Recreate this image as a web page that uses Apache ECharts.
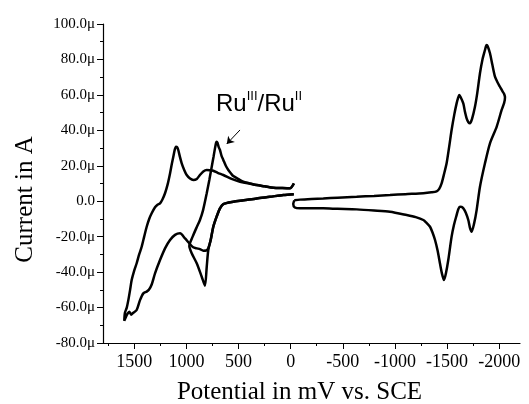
<!DOCTYPE html>
<html>
<head>
<meta charset="utf-8">
<script src="https://cdn.jsdelivr.net/npm/echarts@6/dist/echarts.min.js"></script>
<style>
  html, body { margin: 0; padding: 0; background: #fff; }
  #chart { width: 529px; height: 404px; }
</style>
</head>
<body>
<div id="chart"></div>
<script>
// first scan: only across the Ru(III)/Ru(II) couple
const scan1Potential = [-30, 70, 200, 326, 450, 550, 646, 678, 710, 742, 767, 790, 805, 822, 853, 901, 949, 972, 940, 900, 870, 840, 805, 780, 757, 740, 726, 716, 710, 702, 690, 678, 662, 646, 622, 598, 570, 550, 500, 454, 400, 326, 250, 166, 80, 6, -30]
const scan1Current = [4, 3.5, 2.5, 1.6, 0.5, -0.3, -1.6, -4, -8.7, -14.4, -21.9, -27.5, -37, -47.7, -42.6, -35, -29.4, -25.3, -20, -14.5, -10.6, -5, 4.5, 12, 19.5, 25, 29.8, 32.8, 33.6, 33, 30.5, 28.9, 25.5, 23.3, 20, 17.6, 15.5, 14.2, 12.5, 11, 10.2, 9.1, 8.4, 7.6, 7.4, 7.3, 10]

// second scan: wide anodic window up to +1600 mV
const scan2Potential = [-30, 70, 200, 326, 450, 550, 646, 678, 710, 742, 767, 790, 810, 838, 870, 901, 935, 966, 1013, 1061, 1109, 1157, 1205, 1253, 1301, 1333, 1360, 1381, 1413, 1445, 1477, 1509, 1530, 1548, 1565, 1579, 1596,
  1590, 1572, 1557, 1540, 1525, 1500, 1477, 1453, 1429, 1405, 1381, 1357, 1333, 1301, 1277, 1253, 1230, 1205, 1180, 1157, 1140, 1126, 1112, 1100, 1089, 1078, 1062, 1045, 1020, 997, 965, 934, 900, 870, 838, 805, 775, 742, 700, 646, 560, 486, 400, 326, 250, 166, 80, 6, -32]
const scan2Current = [4, 3.5, 2.5, 1.6, 0.5, -0.3, -1.6, -4, -8.7, -14.4, -21.9, -26.5, -27.8, -27.9, -27, -26.6, -26, -24.2, -21, -18.1, -19, -21.9, -26.6, -33.2, -40.7, -47, -50, -51, -52, -55.8, -61.4, -62.9, -64, -62.3, -63.5, -65.2, -67.5,
  -63, -60, -55.8, -50, -44.5, -39, -35, -30, -25.7, -20, -14.4, -10, -6.8, -3.4, -2, -1.2, 1, 4.5, 9.5, 15.7, 21, 25, 29, 30.8, 30.5, 28.9, 25, 21.4, 17.5, 14.8, 12.8, 12, 12.6, 14.8, 16.8, 17.6, 17.5, 17.2, 16, 14.8, 12.5, 11, 10, 9.1, 8.4, 7.6, 7.4, 7.3, 10.1]

// third scan: cathodic window down to -2050 mV
const scan3Potential = [-35, -90, -200, -313, -450, -633, -800, -953, -1100, -1273, -1350, -1400, -1425, -1448, -1470, -1496, -1520, -1544, -1570, -1592, -1607, -1618, -1630, -1656, -1672, -1688, -1705, -1720, -1740, -1768, -1790, -1816, -1840, -1864, -1874, -1880, -1890, -1912, -1935, -1960, -1985, -2008, -2030, -2048, -2056,
  -2048, -2024, -1976, -1912, -1864, -1816, -1784, -1760, -1736, -1720, -1704, -1680, -1656, -1640, -1624, -1608, -1592, -1568, -1544, -1512, -1490, -1471, -1452, -1432, -1410, -1385, -1360, -1337, -1300, -1273, -1200, -1113, -953, -800, -633, -450, -313, -200, -90, -40, -25, -35]
const scan3Current = [0.5, 0.9, 1.3, 1.6, 2, 2.5, 3, 3.5, 4, 4.5, 5, 5.6, 7, 10.1, 15, 21.4, 30.5, 40.2, 49, 55.2, 58.5, 59.9, 58.8, 55.2, 50.5, 46.8, 44.6, 44, 46.5, 53.3, 61, 72.2, 80, 85.3, 87.5, 88.1, 87.5, 83.5, 77, 70.3, 67, 64.6, 62.2, 60.5, 58.5,
  55.5, 51.5, 42, 32.7, 21.4, 8.2, -5, -12.5, -17.2, -15, -10.6, -6.5, -4, -3.2, -3.1, -4.5, -7.8, -13, -20, -33.2, -40.5, -44.5, -41, -35, -28, -21.9, -17.5, -14.4, -12, -10.6, -9, -7.8, -5.9, -5.2, -4.6, -4.3, -4, -4, -4, -3.5, -1.5, 0.5]

const potentialTicks = [1500, 1000, 500, 0, -500, -1000, -1500, -2000]
const potentialMinorTicks = [1750, 1250, 750, 250, -250, -750, -1250, -1750]

function pairs(xs, ys) {
    return xs.map((x, i) => [x, ys[i]])
}

const serif = 'Liberation Serif'
const chart = echarts.init(document.getElementById('chart'), null, { renderer: 'canvas' })

function scan(name, xs, ys) {
    return {
        name: name,
        type: 'line',
        data: pairs(xs, ys),
        showSymbol: false,
        smooth: 0.25,
        lineStyle: { color: '#000', width: 2.5 },
        animation: false
    }
}

const s1 = scan('scan 1', scan1Potential, scan1Current)
s1.markLine = {
    silent: true,
    symbol: ['none', 'arrow'],
    symbolSize: 7,
    label: { show: false },
    lineStyle: { color: '#000', width: 1, type: 'solid' },
    data: [[{ coord: [486, 40.2] }, { coord: [613, 32.3] }]]
}

const option = {
    backgroundColor: '#fff',
    animation: false,
    grid: { left: 103, right: 9, top: 24, bottom: 61, containLabel: false, outerBoundsMode: 'none' },
    xAxis: [{
        type: 'value',
        min: -2200,
        max: 1800,
        inverse: true,
        name: 'Potential in mV vs. SCE',
        nameLocation: 'middle',
        nameGap: 37,
        nameTextStyle: { fontFamily: serif, fontSize: 25, color: '#000', padding: [0, 24, 0, 0] },
        axisLine: { onZero: false, lineStyle: { color: '#000', width: 1.2 } },
        axisTick: { customValues: potentialTicks, length: 6, lineStyle: { color: '#000' } },
        axisLabel: {
            customValues: potentialTicks, fontFamily: serif, fontSize: 18, color: '#000', margin: 10,
            formatter: v => String(v)
        },
        splitLine: { show: false }
    }, {
        type: 'value',
        min: -2200,
        max: 1800,
        inverse: true,
        position: 'bottom',
        axisLine: { show: false, onZero: false },
        axisTick: { customValues: potentialMinorTicks, length: 3, lineStyle: { color: '#000' } },
        axisLabel: { show: false },
        splitLine: { show: false }
    }],
    yAxis: {
        type: 'value',
        min: -80,
        max: 100,
        interval: 20,
        name: 'Current in A',
        nameLocation: 'middle',
        nameGap: 65,
        nameTextStyle: { fontFamily: serif, fontSize: 25, color: '#000', padding: [0, 32, 0, 0] },
        axisLine: { show: true, onZero: false, lineStyle: { color: '#000', width: 1.2 } },
        axisTick: { show: true, length: 6, lineStyle: { color: '#000' } },
        minorTick: { show: true, splitNumber: 2, length: 3, lineStyle: { color: '#000' } },
        axisLabel: {
            fontFamily: serif, fontSize: 15, color: '#000', margin: 8,
            formatter: v => v === 0 ? '0.0' : v.toFixed(1) + 'μ'
        },
        splitLine: { show: false }
    },
    graphic: [{
        type: 'text',
        left: 216,
        top: 90,
        style: {
            text: '{b|Ru}{s|III}{b|/Ru}{s|II}',
            rich: {
                b: { fontFamily: 'Liberation Sans', fontSize: 24, lineHeight: 28, fill: '#000' },
                s: { fontFamily: 'Liberation Sans', fontSize: 13, lineHeight: 13, verticalAlign: 'top', fill: '#000' }
            }
        }
    }],
    series: [
        s1,
        scan('scan 2', scan2Potential, scan2Current),
        scan('scan 3', scan3Potential, scan3Current)
    ]
}

chart.setOption(option)
</script>
</body>
</html>
